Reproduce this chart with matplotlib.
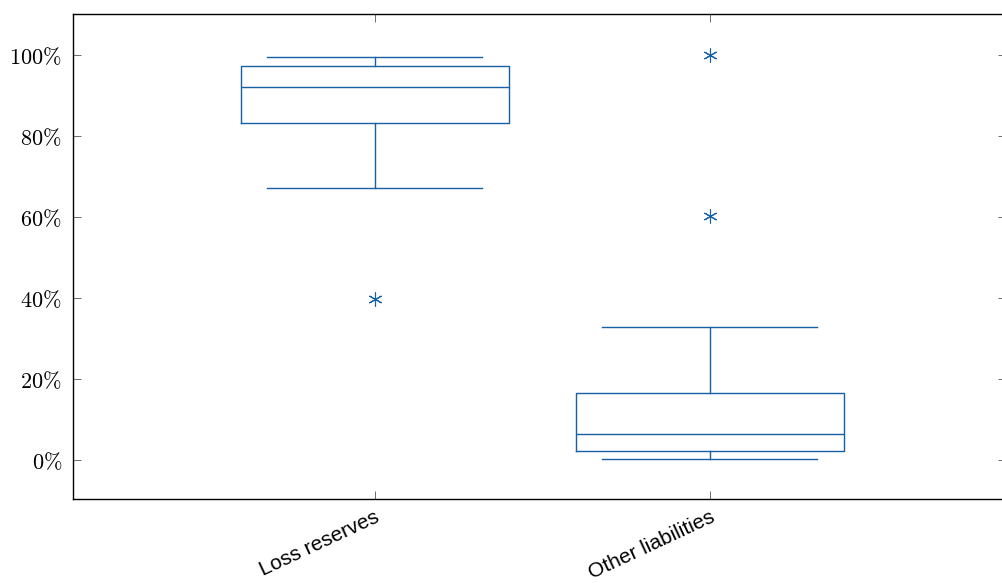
import matplotlib.pyplot as plt
import matplotlib.transforms as mtransforms
from matplotlib.ticker import FuncFormatter

plt.rcParams['mathtext.fontset'] = 'cm'

# datos (en %)
categorias = ['Loss reserves', 'Other liabilities']
bigote_inf = [67.2, 0.3]
q1 = [83.2, 2.2]
mediana = [92.1, 6.4]
q3 = [97.3, 16.6]
bigote_sup = [99.5, 32.8]
atipicos = [[39.8], [100.0, 60.2]]

azul = '#1660a8'

fig = plt.figure(figsize=(10.02, 5.83), dpi=100)
ax = fig.add_axes([73 / 1002, 1 - 499 /583, 933 / 1002, 485 / 583])

stats = []
for i in range(len(categorias)):
    stats.append({
        'whislo': bigote_inf[i], 'q1': q1[i], 'med': mediana[i],
        'q3': q3[i], 'whishi': bigote_sup[i], 'fliers': atipicos[i],
        'label': categorias[i],
    })

props = dict(color=azul, linewidth=1.0)
ax.bxp(stats, positions=[1, 2], widths=0.8, showfliers=True,
       boxprops=props, whiskerprops=props, capprops=props,
       medianprops=props, capwidths=0.64,
       flierprops=dict(marker=(6, 2, 0), markeredgecolor=azul,
                       markerfacecolor=azul, markersize=10, linestyle='none',
                       markeredgewidth=0.8))

ax.set_xlim(0.1, 2.885)
ax.set_ylim(-9.6, 110.1)
ax.set_yticks([0, 20, 40, 60, 80, 100])
ax.yaxis.set_major_formatter(FuncFormatter(lambda v, p: r'$%d\%%$' % v))
ax.set_xticks([1, 2])
ax.set_xticklabels(categorias, rotation=25, ha='right', rotation_mode='anchor',
                   family='Liberation Sans', fontsize=15)

# mover un poco las etiquetas a la izquierda
desplaza = mtransforms.ScaledTranslation(-5 / 100, 0, fig.dpi_scale_trans)
for etiqueta in ax.get_xticklabels():
    etiqueta.set_transform(etiqueta.get_transform() + desplaza)

ax.tick_params(direction='in', top=True, right=True, length=6,
               width=0.6, color='#555555')
ax.tick_params(axis='y', labelsize=16, pad=8)
ax.tick_params(axis='x', pad=6)
for s in ax.spines.values():
    s.set_linewidth(1.0)
    s.set_color('black')
ax.spines['right'].set_visible(False)

fig.savefig('out.png', dpi=100)
